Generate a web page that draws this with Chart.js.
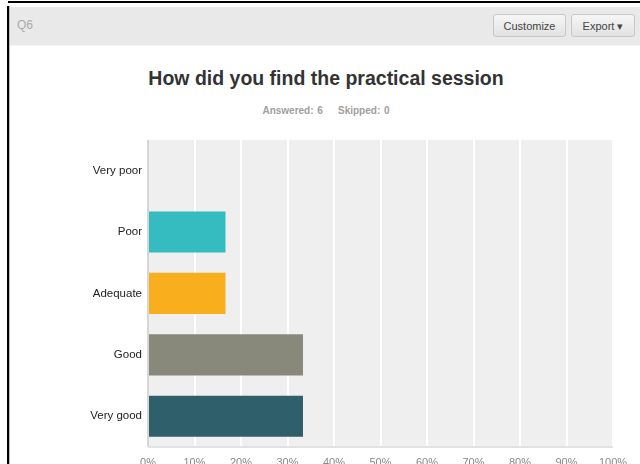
<!DOCTYPE html>
<html>
<head>
<meta charset="utf-8">
<script src="https://cdn.jsdelivr.net/npm/chart.js@4/dist/chart.umd.min.js"></script>
<style>
  html, body { margin: 0; padding: 0; background: #fff; }
  body { width: 640px; height: 464px; position: relative; overflow: hidden; font-family: "Liberation Sans", Arial, sans-serif; }
  .topline { position: absolute; left: 8px; top: 1px; width: 632px; height: 2px; background: #000; }
  .leftline { position: absolute; left: 7px; top: 6px; width: 2px; height: 458px; background: #000; }
  .leftshade { position: absolute; left: 9px; top: 6px; width: 1px; height: 458px; background: #bbb; }
  .header { position: absolute; left: 10px; top: 7px; width: 630px; height: 38px; background: #e9e9e9; border-bottom: 1px solid #f3f3f3; }
  .qnum { position: absolute; left: 7px; top: 11px; font-size: 12px; color: #aaa; }
  .btn { position: absolute; top: 7px; height: 23px; line-height: 23px; font-size: 11px; color: #444;
         background: linear-gradient(#f6f6f6, #e2e2e2); border: 1px solid #c9c9c9; border-radius: 3px; text-align: center; box-sizing: border-box; }
  .title { position: absolute; left: 0; width: 652px; top: 67px; text-align: center; font-size: 19.5px; font-weight: bold; color: #333; }
  .sub { position: absolute; left: 0; width: 652px; top: 105px; text-align: center; font-size: 10px; font-weight: bold; color: #a0a0a0; word-spacing: 1px; }
  #wrap { position: absolute; left: 0; top: 127px; width: 640px; height: 337px; }
</style>
</head>
<body>
<div class="topline"></div>
<div class="leftline"></div>
<div class="leftshade"></div>
<div class="header">
  <div class="qnum">Q6</div>
  <div class="btn" style="left:483px;width:73px;">Customize</div>
  <div class="btn" style="left:561px;width:64px;">Export &#9662;</div>
</div>
<div class="title">How did you find the practical session</div>
<div class="sub">Answered: 6&nbsp;&nbsp;&nbsp;&nbsp;Skipped: 0</div>
<div id="wrap"><canvas id="c" width="640" height="337"></canvas></div>
<script>
// Answer choices and share of respondents (%)
const categories = ["Very poor", "Poor", "Adequate", "Good", "Very good"];
const responses = [0, 16.67, 16.67, 33.33, 33.33];
const barColors = ["#35bcc1", "#35bcc1", "#f8ae1d", "#88897a", "#2f5f6b"];
const tickLabels = ["0%", "10%", "20%", "30%", "40%", "50%", "60%", "70%", "80%", "90%", "100%"];

// Grey plot background behind the bars, plus the left axis and bottom edge
const plotBackground = {
  id: "plotBackground",
  beforeDraw(chart) {
    const { ctx, chartArea: a } = chart;
    ctx.save();
    ctx.fillStyle = "#efefef";
    ctx.fillRect(a.left, a.top, a.right - a.left, a.bottom - a.top);
    ctx.restore();
  },
  afterDatasetsDraw(chart) {
    const { ctx, chartArea: a } = chart;
    ctx.save();
    ctx.strokeStyle = "#d6d6d6";
    ctx.lineWidth = 2;
    ctx.beginPath();
    ctx.moveTo(a.left, a.top);
    ctx.lineTo(a.left, a.bottom);
    ctx.stroke();
    ctx.strokeStyle = "#e2e2e2";
    ctx.beginPath();
    ctx.moveTo(a.left, a.bottom);
    ctx.lineTo(a.right, a.bottom);
    ctx.stroke();
    ctx.restore();
  }
};

new Chart(document.getElementById("c"), {
  type: "bar",
  data: {
    labels: categories,
    datasets: [{
      data: responses,
      backgroundColor: barColors,
      borderWidth: 0,
      categoryPercentage: 1,
      barPercentage: 0.67
    }]
  },
  options: {
    indexAxis: "y",
    responsive: false,
    animation: false,
    layout: { padding: { top: 4, right: 27, left: 0, bottom: 0 } },
    plugins: { legend: { display: false }, tooltip: { enabled: false } },
    scales: {
      x: {
        min: 0, max: 100,
        afterFit(s) { s.height = 17; },
        afterBuildTicks(s) { s.ticks = tickLabels.map((_, i) => ({ value: i * 10 })); },
        ticks: {
          padding: 9,
          color: "#888",
          font: { family: "Liberation Sans", size: 11 },
          maxRotation: 0,
          autoSkip: false,
          callback: (v, i) => tickLabels[i]
        },
        grid: { color: "#ffffff", lineWidth: 2, drawTicks: false },
        border: { display: false }
      },
      y: {
        afterFit(s) { s.width = 148; },
        ticks: {
          padding: 6,
          color: "#222",
          font: { family: "Liberation Sans", size: 11.5 }
        },
        grid: { display: false, drawTicks: false },
        border: { display: false }
      }
    }
  },
  plugins: [plotBackground]
});
</script>
</body>
</html>
